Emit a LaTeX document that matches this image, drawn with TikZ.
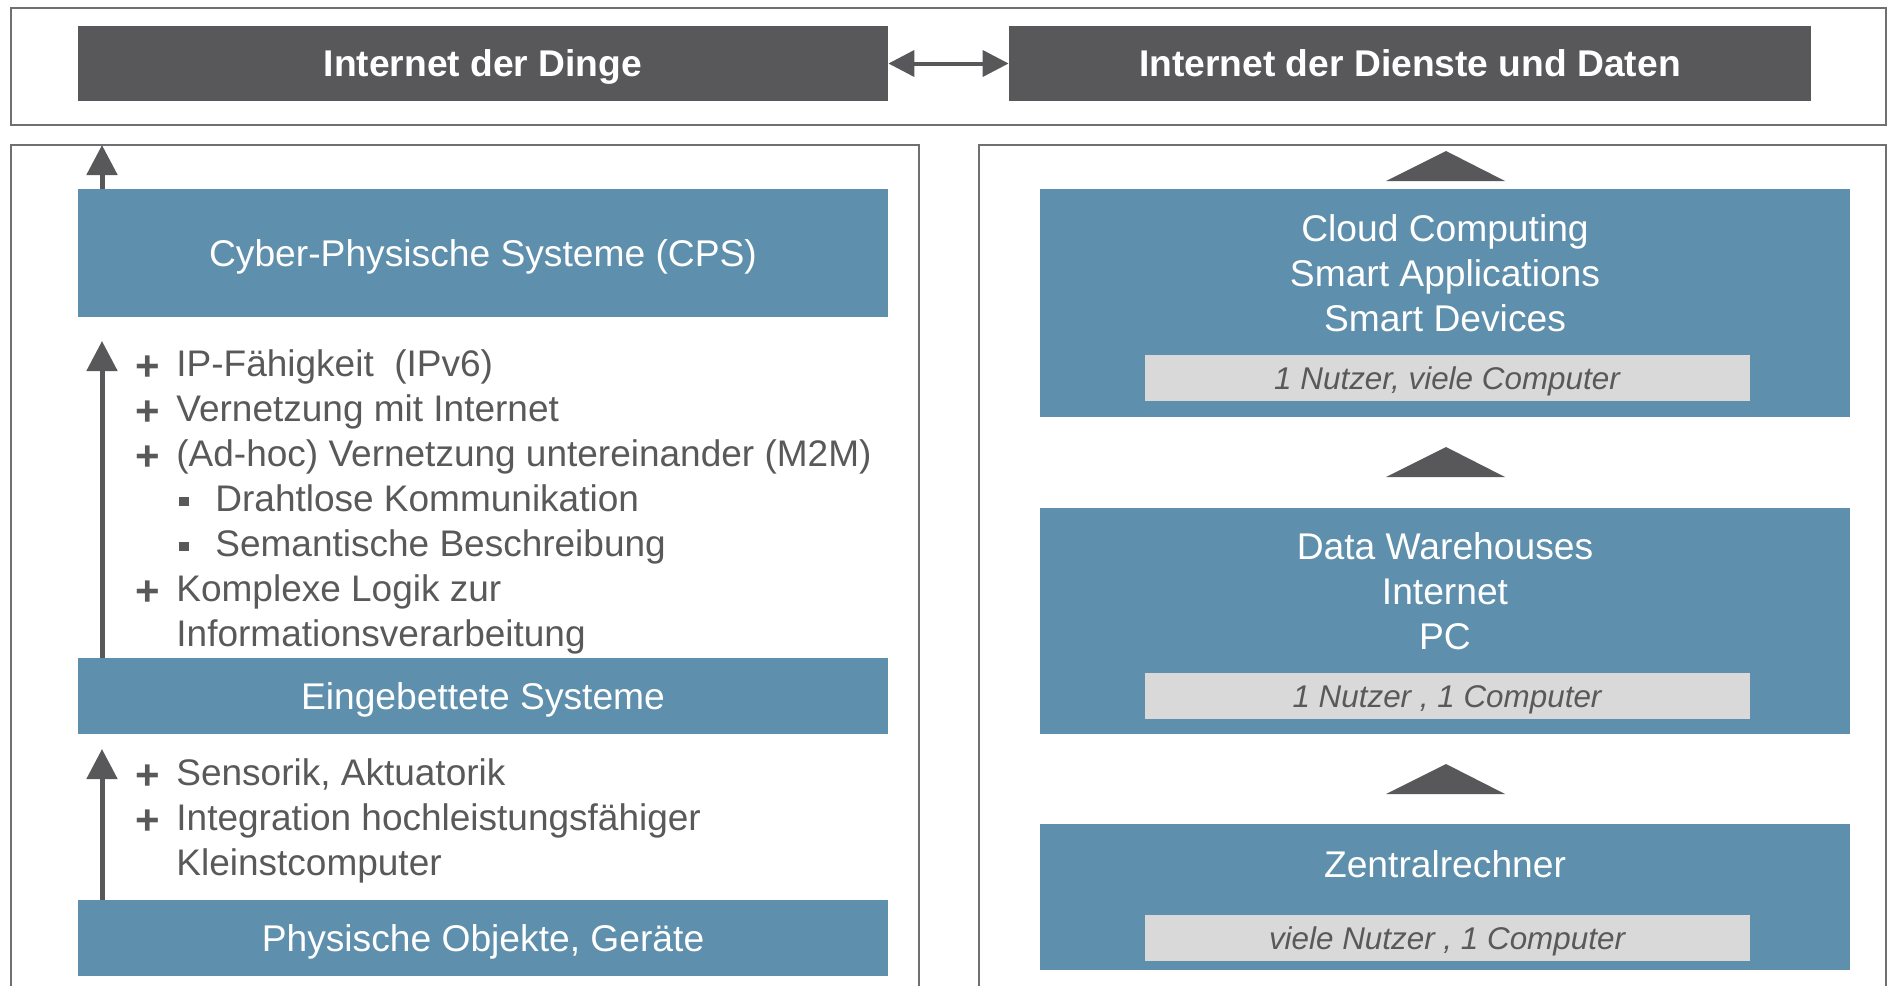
\documentclass[tikz,border=0pt]{standalone}
\usepackage{fontspec}
\setmainfont{Liberation Sans}
\usepackage{tikz}
\usetikzlibrary{arrows.meta, positioning}
\definecolor{IoT_Dark}{HTML}{58585A}
\definecolor{IoT_Blue}{HTML}{5E8FAC}
\definecolor{IoT_Light}{HTML}{D9D9D9}
\definecolor{IoT_Text}{HTML}{595959}
\definecolor{IoT_Frame}{HTML}{707070}

\begin{document}
\begin{tikzpicture}[x=0.5pt, y=-0.5pt,
        frame/.style={draw=IoT_Frame, line width=1pt},
        darkbox/.style={fill=IoT_Dark, text=white, font=\bfseries\fontsize{18.6}{22.4}\selectfont,
            minimum height=37.5pt, inner sep=0pt, text height=13.4pt, text depth=0pt},
        bluebox/.style={fill=IoT_Blue, text=white, font=\fontsize{18.6}{22.4}\selectfont,
            minimum width=405pt, inner sep=0pt, text height=13.4pt, text depth=0pt},
        bluetxt/.style={text=white, font=\fontsize{18.6}{22.4}\selectfont, align=center, inner sep=0pt},
        graybox/.style={fill=IoT_Light, text=IoT_Text, font=\itshape\fontsize{15.7}{19}\selectfont,
            minimum width=302.5pt, minimum height=23pt, inner sep=0pt, text height=11.3pt, text depth=0pt},
        listtxt/.style={anchor=base west, text=IoT_Text, font=\fontsize{18.5}{22.6}\selectfont, inner sep=0pt},
        plusmk/.style={anchor=base, text=IoT_Text, font=\bfseries\fontsize{21}{24}\selectfont, inner sep=0pt},
        sqmk/.style={fill=IoT_Text, minimum size=4.6pt, inner sep=0pt},
        uparrow/.style={-{Triangle[length=15pt, width=15pt]}, line width=2.5pt, draw=IoT_Dark},
        dblarrow/.style={{Triangle[length=13pt, width=13pt]}-{Triangle[length=13pt, width=13pt]}, line width=2pt, draw=IoT_Dark}]

    % Canvas
    \useasboundingbox (0,0) rectangle (1889,985);

    % 1. Frames
    \draw[frame] (11,8) rectangle (1886,125);
    \draw[frame] (11,995) |- (919,145) -- (919,995);
    \draw[frame] (979,995) |- (1886,145) -- (1886,995);

    % 2. Top row
    \node[darkbox, minimum width=405pt] (iot) at (483,63.5) {Internet der Dinge};
    \node[darkbox, minimum width=401pt] (iod) at (1410,63.5) {Internet der Dienste und Daten};
    \draw[dblarrow] (iot.east) -- (iod.west);

    % 3. Left column
    \node[bluebox, minimum height=64pt] (cps) at (483,253) {Cyber-Physische Systeme (CPS)};
    \node[bluebox, minimum height=38pt] (embedded) at (483,696) {Eingebettete Systeme};
    \node[bluebox, minimum height=38pt] (physical) at (483,938) {Physische Objekte, Geräte};

    \coordinate (lftop) at (102,145);
    \coordinate (cpstop) at (102,341);
    \coordinate (embtop) at (102,749);
    \draw[uparrow] (cps.north -| lftop) -- (lftop);
    \draw[uparrow] (embedded.north -| cpstop) -- (cpstop);
    \draw[uparrow] (physical.north -| embtop) -- (embtop);

    % Feature lists
    \foreach \x/\t [count=\i from 0] in {176/{IP-Fähigkeit\ \ (IPv6)}, 176/{Vernetzung mit Internet},
            176/{(Ad-hoc) Vernetzung untereinander (M2M)}, 215/{Drahtlose Kommunikation},
            215/{Semantische Beschreibung}, 176/{Komplexe Logik zur}, 176/{Informationsverarbeitung}}
        \node[listtxt] (ln\i) at ({\x},{376+45.1*\i}) {\t};
    \foreach \x/\t [count=\i from 0] in {176/{Sensorik, Aktuatorik}, 176/{Integration hochleistungsfähiger},
            176/{Kleinstcomputer}}
        \node[listtxt] (lm\i) at ({\x},{785+45*\i}) {\t};

    \foreach \i in {0,1,2,5}
        \node[plusmk] (pl\i) at ([shift={(-14pt,-2pt)}]ln\i.base west) {+};
    \foreach \i in {0,1}
        \node[plusmk] (pm\i) at ([shift={(-14pt,-2pt)}]lm\i.base west) {+};
    \foreach \i in {3,4}
        \node[sqmk] (sq\i) at ([shift={(-15.5pt,5pt)}]ln\i.base west) {};

    % 4. Right column
    \node[bluebox, minimum height=114pt] (cloud) at (1444.5,303) {};
    \node[bluetxt] (cloudtxt) at (1445,273) {Cloud Computing\\Smart Applications\\Smart Devices};
    \node[graybox] (cloudusr) at (1447,378) {1 Nutzer, viele Computer};

    \node[bluebox, minimum height=113pt] (dw) at (1444.5,621) {};
    \node[bluetxt] (dwtxt) at (1445,591) {Data Warehouses\\Internet\\PC};
    \node[graybox] (dwusr) at (1447,696) {1 Nutzer , 1 Computer};

    \node[bluebox, minimum height=73pt] (mainframe) at (1444.5,897) {};
    \node[bluetxt] (mftxt) at (1445,864) {Zentralrechner};
    \node[graybox] (mfusr) at (1447,938) {viele Nutzer , 1 Computer};

    % Triangles between the stages
    \foreach \b in {181,477,794}
        \fill[IoT_Dark] (1386,\b) -- (1446,\b-30) -- (1505,\b) -- cycle;

\end{tikzpicture}
\end{document}
